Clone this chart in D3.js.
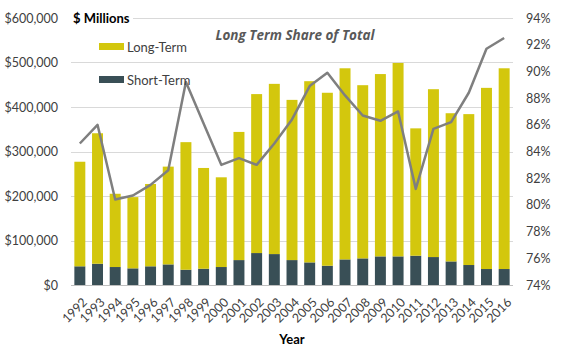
<!DOCTYPE html>
<html>
<head>
<meta charset="utf-8">
<script src="https://cdn.jsdelivr.net/npm/d3@7"></script>
<style>
  body { margin: 0; background: #fff; }
  svg text { font-family: Lato, "Open Sans", sans-serif; }
</style>
</head>
<body>
<svg id="chart" width="576" height="348"></svg>
<script>
/** Years along the bottom */
var years = ['1992', '1993', '1994', '1995', '1996', '1997', '1998', '1999', '2000',
    '2001', '2002', '2003', '2004', '2005', '2006', '2007', '2008', '2009', '2010',
    '2011', '2012', '2013', '2014', '2015', '2016'];

/** Short-term, $ millions (bottom of stack) */
var shortTerm = [42000, 47800, 40400, 37400, 42000, 46300, 34300, 36600, 40400,
    56000, 71800, 69500, 56000, 50800, 43300, 57500, 59800, 64300, 64300,
    65800, 62800, 53000, 44900, 35900, 35900];

/** Long-term, $ millions (stacked on top) */
var longTerm = [235000, 293200, 164600, 160100, 185000, 219700, 286700, 226400, 201600,
    288000, 357200, 382500, 360000, 407200, 388700, 429500, 389200, 409700, 434700,
    286200, 377200, 333000, 339100, 407100, 451100];

/** Long term share of total, percent (right axis) */
var ltShare = [84.6, 86.0, 80.4, 80.7, 81.5, 82.6, 89.2, 86.1, 83.0,
    83.5, 83.0, 84.6, 86.4, 88.9, 89.9, 88.2, 86.7, 86.3, 87.0,
    81.2, 85.7, 86.2, 88.4, 91.7, 92.5];

var leftTicks = [0, 100000, 200000, 300000, 400000, 500000, 600000];
var rightTicks = [74, 76, 78, 80, 82, 84, 86, 88, 90, 92, 94];

var longColor = '#d3c70d',
    shortColor = '#394f56',
    lineColor = '#7f7f7f';

var margin = {left: 71, right: 63, top: 18, bottom: 63};
var width = 576 - margin.left - margin.right,
    height = 348 - margin.top - margin.bottom;

var svg = d3.select('#chart');
var g = svg.append('g').attr('transform', 'translate(' + margin.left + ',' + margin.top + ')');

var x = d3.scaleBand().domain(years).range([0, width]).paddingInner(0.38).paddingOuter(0.19);
var yLeft = d3.scaleLinear().domain([0, 600000]).range([height, 0]);
var yRight = d3.scaleLinear().domain([74, 94]).range([height, 0]);

// gridlines
g.append('g')
    .selectAll('line')
    .data(leftTicks.slice(1))
    .enter()
    .append('line')
    .attr('x1', 0)
    .attr('x2', width)
    .attr('y1', function (d) { return Math.round(yLeft(d)) + 0.5; })
    .attr('y2', function (d) { return Math.round(yLeft(d)) + 0.5; })
    .attr('stroke', '#d9d9d9')
    .attr('stroke-width', 1);

// left axis
var leftAxis = g.append('g')
    .call(d3.axisLeft(yLeft).tickValues(leftTicks).tickSize(0).tickPadding(13)
        .tickFormat(function (d) { return '$' + d3.format(',')(d); }));
leftAxis.select('.domain').remove();
leftAxis.selectAll('text').attr('font-size', 12.5).attr('fill', '#404040');

// right axis
var rightAxis = g.append('g')
    .attr('transform', 'translate(' + width + ',0)')
    .call(d3.axisRight(yRight).tickValues(rightTicks).tickSize(0).tickPadding(13)
        .tickFormat(function (d) { return d + '%'; }));
rightAxis.select('.domain').remove();
rightAxis.selectAll('text').attr('font-size', 12.5).attr('fill', '#404040');

// bars
var bars = g.append('g').selectAll('g')
    .data(years)
    .enter()
    .append('g');

bars.append('rect')
    .attr('x', function (d) { return x(d); })
    .attr('width', x.bandwidth())
    .attr('y', function (d, i) { return yLeft(shortTerm[i]); })
    .attr('height', function (d, i) { return height - yLeft(shortTerm[i]); })
    .attr('fill', shortColor);

bars.append('rect')
    .attr('x', function (d) { return x(d); })
    .attr('width', x.bandwidth())
    .attr('y', function (d, i) { return yLeft(shortTerm[i] + longTerm[i]); })
    .attr('height', function (d, i) { return yLeft(shortTerm[i]) - yLeft(shortTerm[i] + longTerm[i]); })
    .attr('fill', longColor);

// baseline
g.append('line')
    .attr('x1', 0).attr('x2', width)
    .attr('y1', height + 0.5).attr('y2', height + 0.5)
    .attr('stroke', '#bfbfbf');

// bottom axis labels
var bottomAxis = g.append('g')
    .attr('transform', 'translate(0,' + height + ')')
    .call(d3.axisBottom(x).tickSize(0).tickPadding(0));
bottomAxis.select('.domain').remove();
bottomAxis.selectAll('text')
    .attr('font-size', 12.5)
    .attr('fill', '#404040')
    .attr('text-anchor', 'end')
    .attr('dy', '0.35em')
    .attr('transform', 'translate(5,15) rotate(-45)');

// legend
var legendItems = [
    {label: 'Long-Term', color: longColor, y: 47},
    {label: 'Short-Term', color: shortColor, y: 80}
];
var legend = svg.append('g').selectAll('g')
    .data(legendItems)
    .enter()
    .append('g');
legend.append('rect')
    .attr('x', 99).attr('y', function (d) { return d.y - 4; })
    .attr('width', 25).attr('height', 7)
    .attr('fill', function (d) { return d.color; });
legend.append('text')
    .attr('x', 127).attr('y', function (d) { return d.y; })
    .attr('dy', '0.35em')
    .attr('font-size', 13)
    .attr('fill', '#404040')
    .text(function (d) { return d.label; });

// share line
var line = d3.line()
    .x(function (d, i) { return x(years[i]) + x.bandwidth() / 2; })
    .y(function (d) { return yRight(d); });
g.append('path')
    .datum(ltShare)
    .attr('d', line)
    .attr('fill', 'none')
    .attr('stroke', lineColor)
    .attr('stroke-width', 2.5)
    .attr('stroke-linejoin', 'round');

// "$ Millions" label, with white box to hide the gridline behind it
svg.append('rect')
    .attr('x', 71).attr('y', 10).attr('width', 62).attr('height', 16)
    .attr('fill', '#fff');
svg.append('text')
    .attr('x', 73).attr('y', 18)
    .attr('dy', '0.35em')
    .attr('font-size', 13)
    .attr('font-weight', 'bold')
    .attr('fill', '#000')
    .text('$ Millions');

// title
svg.append('text')
    .attr('x', 295).attr('y', 35)
    .attr('dy', '0.35em')
    .attr('text-anchor', 'middle')
    .attr('font-size', 13.5)
    .attr('font-style', 'italic')
    .attr('font-weight', 'bold')
    .attr('fill', '#595959')
    .style('font-family', '"Open Sans", sans-serif')
    .text('Long Term Share of Total');

// x axis title
svg.append('text')
    .attr('x', 292).attr('y', 339)
    .attr('dy', '0.35em')
    .attr('text-anchor', 'middle')
    .attr('font-size', 13)
    .attr('font-weight', 'bold')
    .attr('fill', '#000')
    .text('Year');
</script>
</body>
</html>
